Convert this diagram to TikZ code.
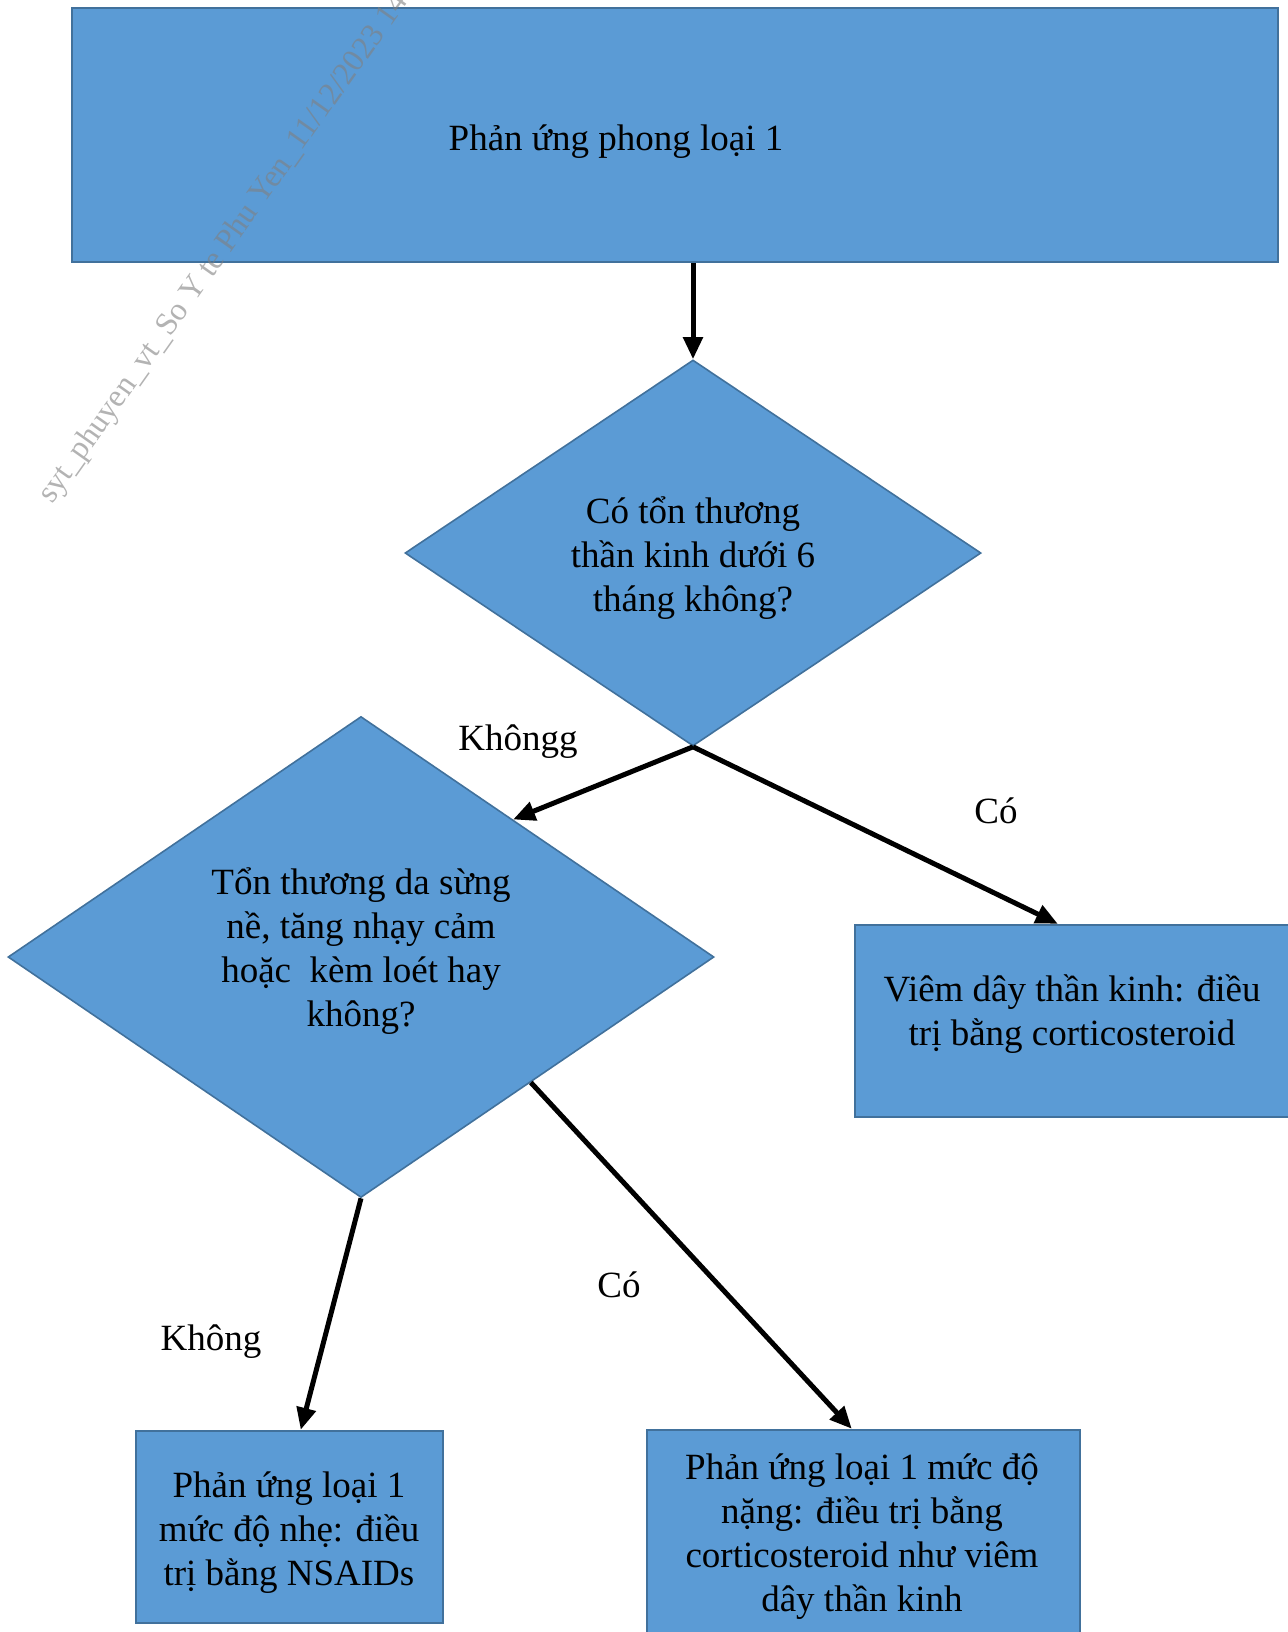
\documentclass[tikz,border=0pt]{standalone}
\usepackage{fontspec}
\setmainfont{Liberation Serif}
\usetikzlibrary{arrows.meta,shapes.geometric,calc}
\definecolor{boxfill}{HTML}{5B9BD5}
\definecolor{boxline}{HTML}{41719C}
\tikzset{
  flowbox/.style={rectangle, draw=boxline, fill=boxfill, line width=2.5pt, inner sep=0pt},
  decision/.style={diamond, draw=boxline, fill=boxfill, line width=1.6pt, inner sep=0pt},
  txt/.style={align=center, inner sep=0pt, font=\fontsize{37}{44}\selectfont},
  flowarrow/.style={-{Triangle[length=22pt,width=19pt]}, line width=5pt},
  watermark/.style={inner sep=0pt, text=gray, opacity=0.6, font=\fontsize{32}{38}\selectfont}
}
\begin{document}
\begin{tikzpicture}[x=1pt,y=-1pt]
\useasboundingbox (0,0) rectangle (1287,1632);

% shapes
\node[flowbox, minimum width=1206pt, minimum height=254pt] (top) at (675,135) {};
\node[txt] (toptext) at (616,142) {Phản ứng phong loại 1};

\node[decision, minimum width=576pt, minimum height=386pt] (d1) at (693,553) {};
\node[txt] (d1text) at (693,558) {Có tổn thương\\thần kinh dưới 6\\tháng không?};

\node[decision, minimum width=706pt, minimum height=481pt] (d2) at (361,957) {};
\node[txt] (d2text) at (361,951) {Tổn thương da sừng\\nề, tăng nhạy cảm\\hoặc\ \ kèm loét hay\\không?};

\node[flowbox, minimum width=440pt, minimum height=192pt] (rbox) at (1075,1021) {};
\node[txt] (rtext) at (1072,1014) {Viêm dây thần kinh: điều\\trị bằng corticosteroid};

\node[flowbox, minimum width=307pt, minimum height=192pt] (bl) at (289.5,1527) {};
\node[txt] (bltext) at (289,1533) {Phản ứng loại 1\\mức độ nhẹ: điều\\trị bằng NSAIDs};

\node[flowbox, minimum width=433pt, minimum height=220pt] (br) at (863.5,1540) {};
\node[txt] (brtext) at (862,1537) {Phản ứng loại 1 mức độ\\nặng: điều trị bằng\\corticosteroid như viêm\\dây thần kinh};

% connectors
\draw[flowarrow] (d1.north |- top.south) -- (d1.north);
\draw[flowarrow] (d1.south) -- ($(d2.north)!0.43!(d2.east)$);
\draw[flowarrow] (d1.south) -- ([xshift=204pt]rbox.north west);
\draw[flowarrow] (d2.south) -- ([xshift=166pt]bl.north west);
\draw[flowarrow] ($(d2.east)!0.52!(d2.south)$) -- ([xshift=206pt]br.north west);

% labels
\node[txt] (l1) at (518,742) {Khôngg};
\node[txt] (l2) at (996,811) {Có};
\node[txt] (l3) at (619,1285) {Có};
\node[txt] (l4) at (211,1342) {Không};

% watermark
\node[watermark, rotate=54.7, anchor=base west] (wm) at (52,505) {syt\_phuyen\_vt\_So Y te Phu Yen\_11/12/2023 14};
\end{tikzpicture}
\end{document}
